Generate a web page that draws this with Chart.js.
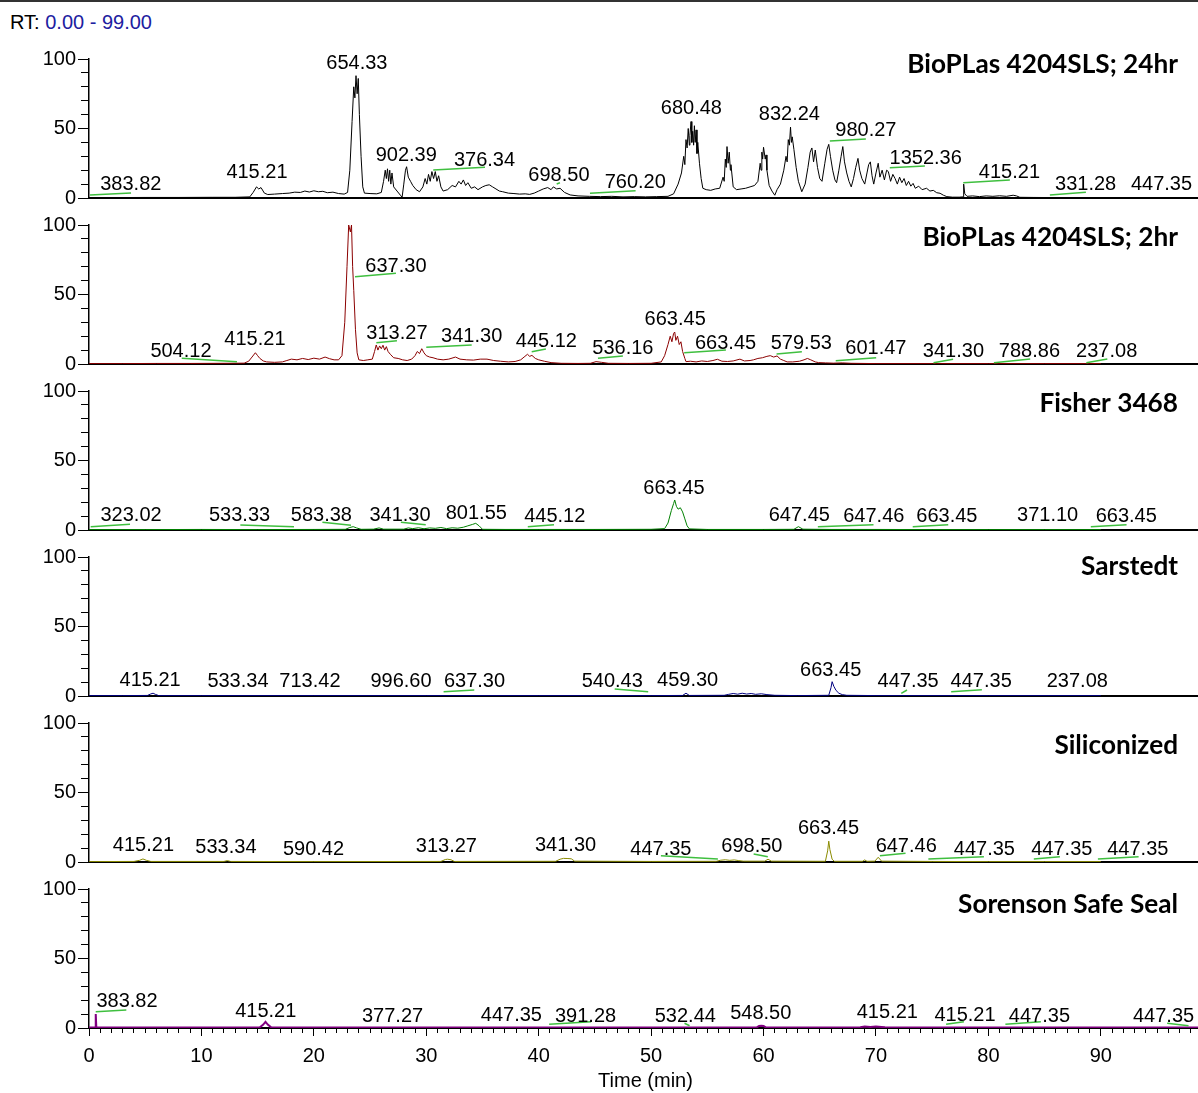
<!DOCTYPE html>
<html><head><meta charset="utf-8">
<script src="https://cdn.jsdelivr.net/npm/chart.js@4/dist/chart.umd.min.js"></script>
<style>
html,body{margin:0;padding:0;background:#fff;overflow:hidden;}
body{width:1198px;height:1093px;position:relative;}
#topline{position:absolute;left:0;top:0;width:1198px;height:0;border-top:2px solid #333;}
#rt{position:absolute;left:10px;top:10px;font:20px "Liberation Sans",Arial,sans-serif;color:#000;line-height:24px;white-space:nowrap;}
#rt span{color:#20209f;}
canvas{position:absolute;left:0;}
</style></head>
<body>
<div id="topline"></div>
<div id="rt">RT: <span>0.00 - 99.00</span></div>
<script>
// ---------------- DATA ----------------
const timeRange = [0, 99];
const panelTitles = ['BioPLas 4204SLS; 24hr','BioPLas 4204SLS; 2hr','Fisher 3468','Sarstedt','Siliconized','Sorenson Safe Seal'];

const trace24hr = [[0,0.3],[2,0.3],[5,0.4],[8,0.4],[11,0.5],[13,0.5],[14.3,0.8],[14.6,4],[14.9,8],[15.1,6.5],[15.3,7.5],[15.6,3.5],[15.9,2.5],[16.5,2.8],[17.2,3.2],[17.8,3.5],[18.3,4.2],[18.8,4],[19.2,5],[19.6,4.3],[20.0,5.2],[20.4,4.5],[20.8,4.8],[21.2,3.8],[21.7,4.2],[22.2,3.2],[22.7,2.8],[23.0,4],[23.2,20],[23.4,55],[23.55,80],[23.65,72],[23.75,88],[23.85,75],[23.95,86],[24.05,60],[24.2,30],[24.35,8],[24.5,3.5],[25.0,3.2],[25.6,3],[26.0,4],[26.2,12],[26.35,20],[26.45,14],[26.55,21],[26.65,12],[26.75,20],[26.85,10],[26.95,18],[27.1,8],[27.4,5],[27.7,2],[27.85,0.5],[28.0,10],[28.15,20],[28.25,22.5],[28.4,15],[28.6,12],[28.8,9],[29.1,6],[29.4,4.5],[29.7,8],[29.9,14],[30.05,10],[30.2,17],[30.35,12],[30.5,19],[30.65,14],[30.8,19],[30.95,12],[31.1,16],[31.3,8],[31.5,5],[31.9,6],[32.3,9],[32.6,8],[32.9,12],[33.1,10],[33.3,13],[33.5,9],[33.7,11],[34.0,7],[34.3,8],[34.6,6],[35.0,8],[35.3,9],[35.6,9.5],[35.9,8],[36.2,6.5],[36.5,5],[36.8,4.5],[37.3,3.5],[37.8,3.2],[38.3,2.8],[38.8,3],[39.2,2.6],[39.6,3.5],[40.0,5],[40.4,6.5],[40.8,7.5],[41.1,6],[41.3,8],[41.6,6.5],[41.9,7],[42.3,4],[42.8,2.2],[43.5,1.5],[44.5,1.2],[45.5,1],[46.5,1.2],[47.5,0.8],[48.5,1],[49.5,0.8],[50.5,1],[51.5,1.2],[52.0,3],[52.4,10],[52.7,18],[52.9,30],[53.0,24],[53.1,42],[53.2,36],[53.3,50],[53.4,38],[53.45,45],[53.55,55],[53.62,40],[53.7,48],[53.78,38],[53.85,52],[53.92,40],[54.0,49],[54.08,32],[54.15,40],[54.3,25],[54.45,14],[54.6,7],[54.9,6],[55.3,5.5],[55.7,6.5],[56.1,7],[56.4,15],[56.5,12],[56.6,28],[56.68,22],[56.75,37],[56.85,25],[56.95,33],[57.05,20],[57.1,24],[57.3,8],[57.6,6],[58.0,6.5],[58.4,7],[58.8,8],[59.2,9],[59.5,12],[59.7,25],[59.78,20],[59.85,33],[59.92,28],[60.0,36.5],[60.15,28],[60.22,31],[60.3,20],[60.5,9],[60.75,5],[61.0,2],[61.2,6],[61.5,10],[61.8,20],[62.0,30],[62.1,26],[62.2,42],[62.3,38],[62.4,51],[62.48,40],[62.55,44],[62.7,35],[62.9,22],[63.1,12],[63.4,4.5],[63.7,10],[63.95,22],[64.15,33],[64.3,36],[64.45,26],[64.6,34.5],[64.8,22],[65.0,14],[65.2,12],[65.45,25],[65.65,35],[65.8,38.6],[65.95,30],[66.15,20],[66.35,13],[66.5,11],[66.7,20],[66.9,30],[67.05,37],[67.2,26],[67.4,18],[67.6,12],[67.8,8],[68.0,14],[68.2,22],[68.4,28.5],[68.55,20],[68.75,14],[69.0,10],[69.2,18],[69.35,24],[69.5,26],[69.65,16],[69.8,10],[70.0,18],[70.2,25],[70.35,15],[70.55,20],[70.75,13],[70.95,20],[71.1,19],[71.3,12],[71.5,17],[71.7,14],[71.9,10],[72.1,15],[72.3,11],[72.5,14],[72.7,9],[72.9,12],[73.1,8.5],[73.3,10.5],[73.5,7],[73.8,8.5],[74.1,6],[74.5,7],[74.8,5],[75.1,5.5],[75.4,3.8],[75.7,3.4],[76.0,2],[76.3,1],[76.8,0.6],[77.4,0.6],[77.75,0.8],[77.8,10],[77.9,3],[78.1,1.2],[78.6,1.5],[79.2,1],[79.8,1.5],[80.4,1.2],[81,1.6],[81.6,1.2],[82.2,2],[82.5,1.5],[82.8,0.5],[84,0.4],[86,0.3],[88,0.3],[90,0.3]];

const trace2hr = [[0,0.3],[3,0.3],[6,0.4],[9,0.4],[12,0.5],[13.8,0.6],[14.2,2],[14.5,5],[14.8,8.1],[15.0,6],[15.2,4],[15.5,2.2],[15.8,1.5],[16.5,1.2],[17.2,1.5],[17.6,2.5],[18,3.5],[18.5,3],[19,4],[19.5,3.2],[20,4.2],[20.5,3.5],[21,5],[21.4,3.8],[21.8,3],[22.2,3],[22.5,6],[22.75,30],[22.95,70],[23.1,100],[23.25,95],[23.35,100],[23.45,70],[23.55,53],[23.7,25],[23.85,8],[24.0,3],[24.4,2.5],[24.8,3],[25.2,3.5],[25.4,9],[25.55,13.7],[25.7,10],[25.85,13],[26.0,11],[26.15,13.5],[26.3,10],[26.45,12.5],[26.6,9],[26.8,7],[27.1,4.5],[27.5,4],[27.9,3],[28.3,2.5],[28.7,3.5],[29.0,6],[29.2,9],[29.4,7.5],[29.6,11],[29.8,8],[30.0,6],[30.3,5],[30.6,4.5],[31.0,3.5],[31.5,3],[32.0,3.5],[32.6,5],[33.0,3.5],[33.6,3],[34.2,2.8],[34.8,3.5],[35.4,3.5],[36.0,2.5],[36.6,2],[37.3,1.5],[37.9,1.8],[38.4,3],[38.7,5],[39.0,7],[39.2,5.5],[39.4,6.2],[39.7,4],[40.0,3],[40.5,2],[41.1,1],[42,0.5],[43.5,0.4],[44.6,0.5],[45.1,1.7],[45.6,1.2],[46.2,0.5],[48,0.4],[50.0,0.5],[50.9,1.5],[51.2,6],[51.5,14],[51.7,20],[51.85,16],[52.0,22],[52.1,23],[52.2,17],[52.35,20],[52.5,14],[52.65,16],[52.8,9],[53.0,4],[53.1,1.7],[53.5,2],[54.0,1.5],[54.5,2.2],[55.0,1.8],[55.5,2.5],[55.9,3.4],[56.3,2],[56.8,1.8],[57.3,2.2],[57.9,3.5],[58.3,2.2],[58.8,2.5],[59.1,3],[59.5,4],[59.9,4.5],[60.3,5.5],[60.6,6],[60.9,5],[61.2,5.8],[61.5,3.5],[61.8,2.5],[62.1,1.5],[62.6,1.5],[63.2,2],[63.6,3],[63.9,4],[64.2,3],[64.6,1.5],[64.9,1],[65.5,0.8],[66.2,0.6],[67.0,0.8],[67.8,0.5],[70,0.3],[75,0.3],[80,0.3],[85,0.3],[90,0.3]];

const traceFisher = [[0,0.3],[5,0.3],[10,0.4],[15,0.3],[20,0.4],[22.8,0.5],[23.2,1.8],[23.5,2.4],[23.8,1.5],[24.2,0.5],[25.3,0.6],[25.8,1.5],[26.2,0.6],[28.0,0.6],[28.4,1.5],[28.8,1],[29.3,1.6],[29.8,0.9],[30.3,1.5],[30.8,1.2],[31.3,1.8],[31.8,1],[32.3,1.6],[32.8,1.3],[33.3,2],[33.7,3],[34.1,4],[34.4,4.8],[34.7,3],[35.0,0.5],[37,0.4],[40,0.4],[45,0.4],[50,0.5],[51.2,1],[51.5,5],[51.8,14],[52.0,19],[52.1,21.6],[52.25,17],[52.4,15],[52.6,16],[52.8,13],[53.0,8],[53.2,3],[53.4,0.8],[55,0.4],[60,0.4],[62.7,0.5],[63.1,2.4],[63.5,0.6],[66,0.4],[70,0.4],[75,0.3],[80,0.3],[85,0.3],[90,0.3]];

const traceSarstedt = [[0,0.3],[3,0.3],[5.2,0.4],[5.5,1.5],[5.7,2],[5.9,1.2],[6.2,0.3],[10,0.3],[20,0.3],[30,0.3],[40,0.3],[50,0.3],[52.8,0.4],[53.1,2],[53.4,0.4],[56.5,0.5],[56.9,1.2],[57.3,1.8],[57.7,1.3],[58.1,2],[58.5,1.4],[58.9,1.8],[59.3,1.2],[59.8,1.6],[60.3,1],[61.0,0.5],[63,0.3],[65.8,0.5],[66.0,6],[66.1,10.3],[66.25,7],[66.45,4],[66.7,2],[67.0,1],[67.4,0.5],[70,0.3],[80,0.3],[90,0.3]];

const traceSiliconized = [[0,0.3],[4.0,0.4],[4.5,1.2],[4.8,2.2],[5.1,1.2],[5.5,0.4],[12.0,0.4],[12.3,1],[12.6,0.4],[20,0.3],[31.3,0.4],[31.7,1.8],[31.9,2],[32.2,1.6],[32.5,0.4],[41.5,0.5],[41.9,2],[42.2,2.6],[42.6,2.5],[42.9,2.3],[43.2,0.6],[50,0.4],[55.8,0.5],[56.2,1.3],[56.6,1.6],[57.0,1.2],[57.4,1.5],[57.8,1],[58.2,0.6],[60.1,0.6],[60.4,2],[60.7,0.6],[65.5,0.5],[65.7,8],[65.8,15],[65.9,9],[66.1,2],[66.3,0.5],[68.8,0.5],[69.0,1.5],[69.2,0.5],[69.9,0.6],[70.2,3.4],[70.5,0.6],[75,0.4],[80,0.3],[85,0.3],[90,0.3]];

const traceSorenson = [[0,0.3],[0.55,0.3],[0.6,10],[0.65,0.5],[3,0.4],[8,0.4],[12,0.4],[15.2,0.5],[15.5,2.5],[15.7,4.5],[15.9,2.5],[16.2,0.5],[20,0.4],[30,0.4],[40,0.4],[50,0.4],[59.4,0.5],[59.6,1.5],[59.8,1.7],[60.0,1.5],[60.2,0.5],[65,0.4],[68.6,0.6],[69.0,1],[69.5,0.7],[70.0,1],[70.5,0.7],[70.8,0.5],[80,0.4],[90,0.4],[99,0.4]];

// peak annotations: m/z text, [time, intensity] of text centre, leader [t1,i1,t2,i2]
const peaks24hr = ['383.82','415.21','654.33','902.39','376.34','698.50','760.20','680.48','832.24','980.27','1352.36','415.21','331.28','447.35'];
const peakAt24hr = [[3.72,9.4],[14.94,18.0],[23.83,96.9],[28.22,30.9],[35.18,27.3],[41.8,16.5],[48.59,11.0],[53.58,64.5],[62.3,60.4],[69.1,48.4],[74.42,28.6],[81.87,18.5],[88.65,9.4],[95.4,9.4]];
const leaders24hr = [[0.09,2.2,3.74,3.6],null,null,null,[30.62,20.1,35.22,22.1],[41.6,10.1,41.89,11.0],[44.56,3.4,48.62,5.25],null,null,[65.9,41.0,69.1,42.4],[71.23,21.8,74.35,23.0],[77.76,11.0,81.91,12.9],[85.47,2.2,88.67,4.1],null];

const peaks2hr = ['504.12','415.21','637.30','313.27','341.30','445.12','536.16','663.45','663.45','579.53','601.47','341.30','788.86','237.08'];
const peakAt2hr = [[8.18,8.85],[14.76,17.8],[27.3,70.0],[27.39,22.1],[34.04,19.6],[40.68,16.0],[47.49,11.5],[52.14,31.7],[56.62,14.9],[63.36,14.4],[69.99,11.3],[76.89,8.85],[83.65,8.85],[90.52,8.85]];
const leaders2hr = [[8.25,4.1,13.16,1.65],null,[23.66,62.8,27.3,65.3],[25.56,15.3,27.39,16.8],[30.0,12.0,34.04,13.7],[39.38,8.85,40.64,10.8],[45.27,4.1,47.49,5.75],null,[52.94,8.1,56.65,10.1],[61.16,7.2,63.41,8.85],[66.42,2.4,70.02,4.5],[75.12,0.9,76.86,3.4],[80.49,0.9,83.72,3.6],[88.71,0.9,90.58,3.6]];

const peaksFisher = ['323.02','533.33','583.38','341.30','801.55','445.12','663.45','647.45','647.46','663.45','371.10','663.45'];
const peakAtFisher = [[3.74,10.3],[13.39,10.3],[20.67,10.8],[27.66,10.8],[34.45,12.0],[41.43,9.6],[52.03,30.0],[63.18,10.8],[69.81,9.6],[76.31,9.6],[85.27,10.8],[92.26,9.6]];
const leadersFisher = [[0.15,2.4,3.65,4.1],[13.46,3.6,18.23,2.4],[20.76,5.5,23.3,3.4],[27.74,5.5,29.95,3.8],null,[39.03,2.4,41.36,3.8],null,null,[64.83,2.4,69.78,3.8],[73.27,2.4,76.43,3.8],null,[89.11,2.4,92.29,3.8]];

const peaksSarstedt = ['415.21','533.34','713.42','996.60','637.30','540.43','459.30','663.45','447.35','447.35','237.08'];
const peakAtSarstedt = [[5.44,11.5],[13.25,10.1],[19.65,10.1],[27.75,10.1],[34.29,10.1],[46.54,10.1],[53.25,11.5],[65.97,18.7],[72.86,10.1],[79.36,10.1],[87.91,10.1]];
const leadersSarstedt = [null,null,null,null,[31.54,3.1,34.27,4.3],[46.76,5.0,49.74,3.1],null,null,[72.25,1.9,72.76,4.3],[76.69,3.1,79.42,4.5],null];

const peaksSiliconized = ['415.21','533.34','590.42','313.27','341.30','447.35','698.50','663.45','647.46','447.35','447.35','447.35'];
const peakAtSiliconized = [[4.84,12.2],[12.18,10.6],[19.97,9.1],[31.79,11.0],[42.39,12.2],[50.87,9.1],[58.96,11.0],[65.78,24.2],[72.69,11.5],[79.64,9.1],[86.53,9.1],[93.29,9.1]];
const leadersSiliconized = [null,null,null,null,null,[50.87,4.5,55.94,2.2],[59.12,5.75,60.38,3.8],null,[70.35,4.5,72.63,6.3],[74.66,2.2,79.6,3.8],[84.04,2.2,86.36,3.8],[89.74,2.2,93.36,3.8]];

const peaksSorenson = ['383.82','415.21','377.27','447.35','391.28','532.44','548.50','415.21','415.21','447.35','447.35'];
const peakAtSorenson = [[3.38,18.9],[15.72,12.2],[27.0,8.1],[37.57,8.85],[44.17,8.1],[53.04,8.1],[59.75,10.6],[71.01,11.3],[77.92,8.85],[84.54,8.6],[95.58,8.6]];
const leadersSorenson = [[0.6,11.7,3.32,12.9],null,null,null,[40.93,2.7,44.66,4.5],[52.97,3.4,53.42,1.65],null,null,[76.24,2.7,77.82,4.5],[81.51,2.7,84.67,4.5],[95.9,3.4,97.8,1.65]];

const yTickValues = [0, 50, 100];
const xTickLabelEvery = 10;
const xAxisTitle = 'Time (min)';

// ---------------- LAYOUT / STYLE ----------------
const panels = [
  {trace: trace24hr, names: peaks24hr, at: peakAt24hr, leaders: leaders24hr, color: '#000000', lw: 1},
  {trace: trace2hr, names: peaks2hr, at: peakAt2hr, leaders: leaders2hr, color: '#8b0000', lw: 1},
  {trace: traceFisher, names: peaksFisher, at: peakAtFisher, leaders: leadersFisher, color: '#008000', lw: 1},
  {trace: traceSarstedt, names: peaksSarstedt, at: peakAtSarstedt, leaders: leadersSarstedt, color: '#000080', lw: 1},
  {trace: traceSiliconized, names: peaksSiliconized, at: peakAtSiliconized, leaders: leadersSiliconized, color: '#8b8b00', lw: 1},
  {trace: traceSorenson, names: peaksSorenson, at: peakAtSorenson, leaders: leadersSorenson, color: '#800080', lw: 2}
];
const PANEL_TOP = [59, 225, 391, 557, 723, 889];
const PLOT_H = 139;
const TITLE_BASE = [14.3, 21, 20.7, 18, 31.3, 23.7];
const TITLE_RIGHT = 1178;
const CANVAS_W = 1206;
const PAD_TOP = 16;
const LABEL_FONT = '20px "Liberation Sans", Arial, sans-serif';
const TITLE_FONT = 'bold 26.2px Lato, "Open Sans", sans-serif';
const FONT_OBJ = {family: '"Liberation Sans", Arial, sans-serif', size: 20};

function annotPlugin(p, i) {
  return {
    id: 'annot' + i,
    afterDatasetsDraw(chart) {
      const ctx = chart.ctx, x = chart.scales.x, y = chart.scales.y;
      ctx.save();
      ctx.strokeStyle = '#3fbf3f';
      ctx.lineWidth = 1.5;
      p.leaders.forEach(l => {
        if (!l) return;
        ctx.beginPath();
        ctx.moveTo(x.getPixelForValue(l[0]), y.getPixelForValue(l[1]));
        ctx.lineTo(x.getPixelForValue(l[2]), y.getPixelForValue(l[3]));
        ctx.stroke();
      });
      ctx.fillStyle = '#000';
      ctx.font = LABEL_FONT;
      ctx.textAlign = 'center';
      ctx.textBaseline = 'middle';
      p.names.forEach((n, k) => {
        ctx.fillText(n, x.getPixelForValue(p.at[k][0]), y.getPixelForValue(p.at[k][1]));
      });
      ctx.font = TITLE_FONT;
      ctx.textAlign = 'right';
      ctx.textBaseline = 'alphabetic';
      ctx.fillText(panelTitles[i], TITLE_RIGHT, chart.chartArea.top + TITLE_BASE[i]);
      ctx.restore();
    }
  };
}

panels.forEach((p, i) => {
  const isBottom = i === panels.length - 1;
  const below = isBottom ? 1093 - (PANEL_TOP[i] + PLOT_H) : 14;
  const cv = document.createElement('canvas');
  cv.width = CANVAS_W;
  cv.height = PAD_TOP + PLOT_H + below;
  cv.style.width = CANVAS_W + 'px';
  cv.style.height = cv.height + 'px';
  cv.style.top = (PANEL_TOP[i] - PAD_TOP) + 'px';
  document.body.appendChild(cv);

  const xScale = {
    type: 'linear', min: timeRange[0], max: timeRange[1],
    afterFit: s => { s.height = below; },
    border: {display: true, color: '#000', width: 2},
    grid: {display: false},
    ticks: {display: false}
  };
  if (isBottom) {
    xScale.grid = {
      display: true, drawOnChartArea: false, drawTicks: true, tickLength: 16,
      tickColor: '#000', tickWidth: 1,
      tickBorderDash: c => (c.tick && c.tick.value % xTickLabelEvery === 0) ? [7, 100] : [4, 100]
    };
    xScale.ticks = {
      display: true, stepSize: 1, autoSkip: false, maxRotation: 0, minRotation: 0,
      padding: 0, color: '#000', font: FONT_OBJ,
      callback: v => (v % xTickLabelEvery === 0) ? String(v) : ''
    };
    xScale.title = {display: true, text: xAxisTitle, color: '#000', font: FONT_OBJ, padding: {top: 0, bottom: 0}};
  }

  new Chart(cv, {
    type: 'line',
    data: {
      datasets: [{
        data: p.trace.map(d => ({x: d[0], y: d[1]})),
        borderColor: p.color, borderWidth: p.lw, pointRadius: 0, tension: 0, fill: false
      }]
    },
    options: {
      responsive: false, animation: false, devicePixelRatio: 1,
      layout: {padding: {top: PAD_TOP, right: CANVAS_W - 1202, left: 0, bottom: 0}},
      plugins: {legend: {display: false}, tooltip: {enabled: false}, title: {display: false}},
      events: [],
      scales: {
        x: xScale,
        y: {
          min: 0, max: 100,
          afterFit: s => { s.width = 89; },
          border: {display: true, color: '#000', width: 1.5},
          grid: {
            display: true, drawOnChartArea: false, drawTicks: true, tickLength: 11,
            tickColor: '#000', tickWidth: 1,
            tickBorderDash: c => (c.tick && yTickValues.includes(c.tick.value)) ? [] : [0, 3, 8, 100]
          },
          ticks: {
            stepSize: 10, autoSkip: false, padding: 2, color: '#000', font: FONT_OBJ,
            callback: v => yTickValues.includes(v) ? String(v) : ''
          }
        }
      }
    },
    plugins: [annotPlugin(p, i)]
  });
});
</script>
</body></html>
